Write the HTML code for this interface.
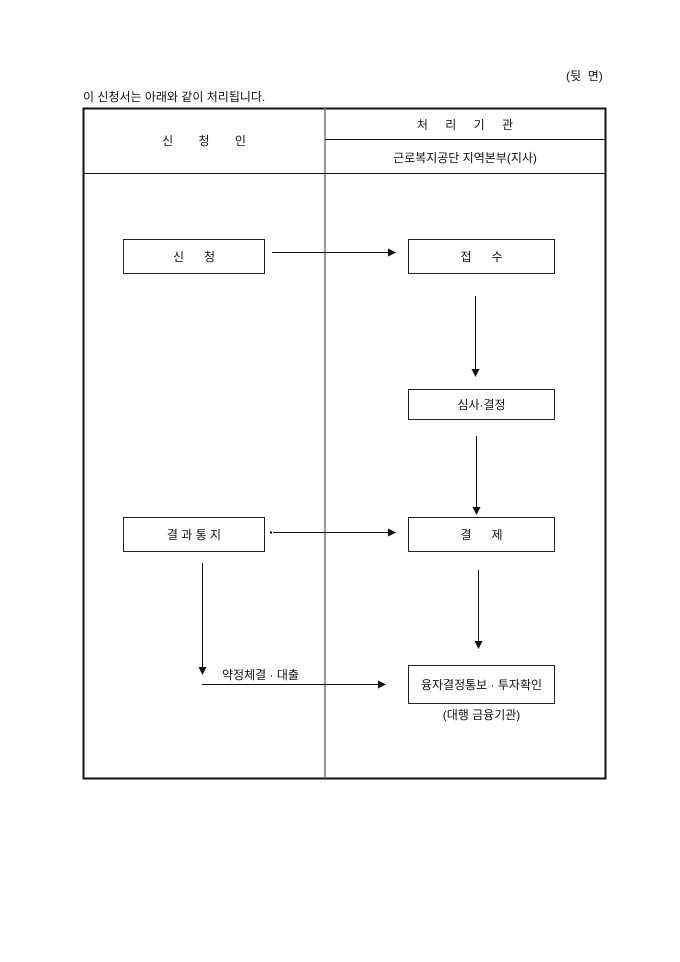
<!DOCTYPE html>
<html><head><meta charset="utf-8"><style>
body{margin:0;background:#fff;width:680px;height:962px;position:relative;font-family:"Liberation Sans","Noto Sans CJK KR","NanumGothic",sans-serif;color:#111;font-size:12px}
.a{position:absolute}
.box{position:absolute;border:1px solid #222;box-sizing:border-box;display:flex;align-items:center;justify-content:center;white-space:pre}
</style></head><body>
<div class="a" style="left:566px;top:67px;white-space:pre">(뒷  면)</div>
<div class="a" style="left:83px;top:88px">이 신청서는 아래와 같이 처리됩니다.</div>
<svg class="a" style="left:0;top:0" width="680" height="962">
<defs><marker id="m" markerWidth="8" markerHeight="8" refX="7" refY="4" orient="auto" markerUnits="userSpaceOnUse"><path d="M0,0L8,4L0,8z" fill="#111"/></marker></defs>
<rect x="83.5" y="108.5" width="522" height="670" fill="none" stroke="#111" stroke-width="2"/>
<line x1="325" y1="108" x2="325" y2="778" stroke="#777" stroke-width="1.5"/>
<line x1="325" y1="139.5" x2="605" y2="139.5" stroke="#111"/>
<line x1="83" y1="173.5" x2="605" y2="173.5" stroke="#111"/>
<g stroke="#111" stroke-width="1" fill="none">
<line x1="272" y1="252.5" x2="395" y2="252.5" marker-end="url(#m)"/>
<line x1="475.5" y1="296" x2="475.5" y2="376" marker-end="url(#m)"/>
<line x1="476.5" y1="436" x2="476.5" y2="514" marker-end="url(#m)"/>
<line x1="273" y1="532.5" x2="395" y2="532.5" marker-end="url(#m)"/>
<line x1="478.5" y1="570" x2="478.5" y2="648" marker-end="url(#m)"/>
<line x1="202.5" y1="563" x2="202.5" y2="674" marker-end="url(#m)"/>
<line x1="202" y1="684.5" x2="385" y2="684.5" marker-end="url(#m)"/>
</g>
<circle cx="271" cy="532.5" r="1.2" fill="#111"/>
</svg>
<div class="a" style="left:83px;top:132px;width:242px;text-align:center;white-space:pre;word-spacing:22px">신 청 인</div>
<div class="a" style="left:325px;top:116px;width:280px;text-align:center;white-space:pre;word-spacing:14px">처 리 기 관</div>
<div class="a" style="left:325px;top:149px;width:280px;text-align:center">근로복지공단 지역본부(지사)</div>
<div class="box" style="left:123px;top:239px;width:142px;height:35px">신      청</div>
<div class="box" style="left:408px;top:239px;width:147px;height:35px">접      수</div>
<div class="box" style="left:408px;top:389px;width:147px;height:31px">심사·결정</div>
<div class="box" style="left:123px;top:517px;width:142px;height:35px">결 과 통 지</div>
<div class="box" style="left:408px;top:517px;width:147px;height:35px">결      제</div>
<div class="box" style="left:408px;top:665px;width:147px;height:39px">융자결정통보 · 투자확인</div>
<div class="a" style="left:222px;top:666px">약정체결 · 대출</div>
<div class="a" style="left:408px;top:706px;width:147px;text-align:center">(대행 금융기관)</div>
</body></html>
